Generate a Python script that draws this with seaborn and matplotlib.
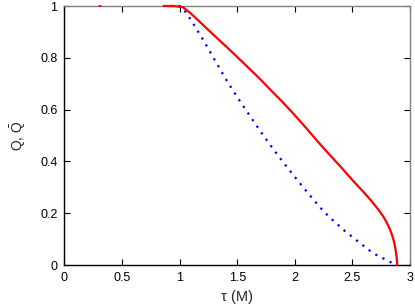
import matplotlib
matplotlib.use('Agg')
import numpy as np
import pandas as pd
import seaborn as sns
import matplotlib.pyplot as plt
from matplotlib.ticker import FormatStrFormatter

# Q (red, solid)
tau_q = [0.86, 0.95, 1.03, 1.10, 1.2, 1.3, 1.4, 1.5, 1.6, 1.7, 1.8, 1.9, 2.0,
         2.1, 2.2, 2.264, 2.396, 2.526, 2.6, 2.657, 2.7, 2.74, 2.772, 2.8, 2.82,
         2.839, 2.855, 2.866, 2.874, 2.881, 2.886, 2.889]
q_vals = [1.0, 1.0, 0.995, 0.97, 0.928, 0.886, 0.845, 0.803, 0.760, 0.717, 0.671,
          0.626, 0.578, 0.528, 0.476, 0.444, 0.380, 0.315, 0.280, 0.251, 0.228,
          0.205, 0.184, 0.162, 0.143, 0.122, 0.100, 0.080, 0.060, 0.040, 0.020,
          0.0]
# small red mark at the top border
tau_q_mark = [0.30, 0.32]
q_mark = [1.0, 1.0]

# Q bar (blue, dotted)
tau_qb = [0.92, 1.0, 1.03, 1.1, 1.2, 1.3, 1.4, 1.5, 1.6, 1.7, 1.8, 1.9, 2.0, 2.1,
          2.222, 2.3, 2.424, 2.5, 2.642, 2.7, 2.8, 2.845, 2.87]
qb_vals = [1.0, 1.0, 0.99, 0.945, 0.872, 0.795, 0.718, 0.648, 0.582, 0.517, 0.455,
           0.396, 0.340, 0.285, 0.221, 0.185, 0.135, 0.108, 0.058, 0.041, 0.018,
           0.008, 0.0]

x_ticks = [0, 0.5, 1, 1.5, 2, 2.5, 3]
y_ticks = [0, 0.2, 0.4, 0.6, 0.8, 1]

sns.set_style('ticks')
plt.rcParams['font.family'] = ['Liberation Sans', 'DejaVu Sans']
plt.rcParams['mathtext.fontset'] = 'custom'
plt.rcParams['mathtext.rm'] = 'Liberation Sans'

fig = plt.figure(figsize=(4.15, 3.08), dpi=100)
ax = fig.add_axes([0.1554, 0.1396, 0.8326, 0.8409])

sns.lineplot(x=tau_qb, y=qb_vals, ax=ax, sort=False, color='#0000ff',
             linewidth=1.6, clip_on=False, zorder=5)
ax.lines[-1].set_dashes((1, 2.6))
ax.lines[-1].set_dash_capstyle('butt')
sns.lineplot(x=tau_q, y=q_vals, ax=ax, sort=False, color='#ff0000',
             linewidth=1.6, clip_on=False, zorder=6)
sns.lineplot(x=tau_q_mark, y=q_mark, ax=ax, sort=False, color='#ff0000',
             linewidth=1.2, clip_on=False, zorder=6)

ax.set_xlim(0, 3)
ax.set_ylim(0, 1)
ax.set_xticks(x_ticks)
ax.set_yticks(y_ticks)
ax.xaxis.set_major_formatter(FormatStrFormatter('%g'))
ax.yaxis.set_major_formatter(FormatStrFormatter('%g'))
ax.tick_params(direction='in', length=4, width=0.8, top=True, right=True,
               labelsize=9, pad=5, colors='#000000')
for s in ['left', 'bottom']:
    ax.spines[s].set_color('#000000')
for s in ['top', 'right']:
    ax.spines[s].set_color('#808080')
for s in ax.spines.values():
    s.set_linewidth(1.0)

ax.set_xlabel('τ (M)', fontsize=10.5, labelpad=4)
ax.set_ylabel(r'Q, $\bar{\mathrm{Q}}$', fontsize=10, labelpad=9)

fig.savefig('out.png', dpi=100)
